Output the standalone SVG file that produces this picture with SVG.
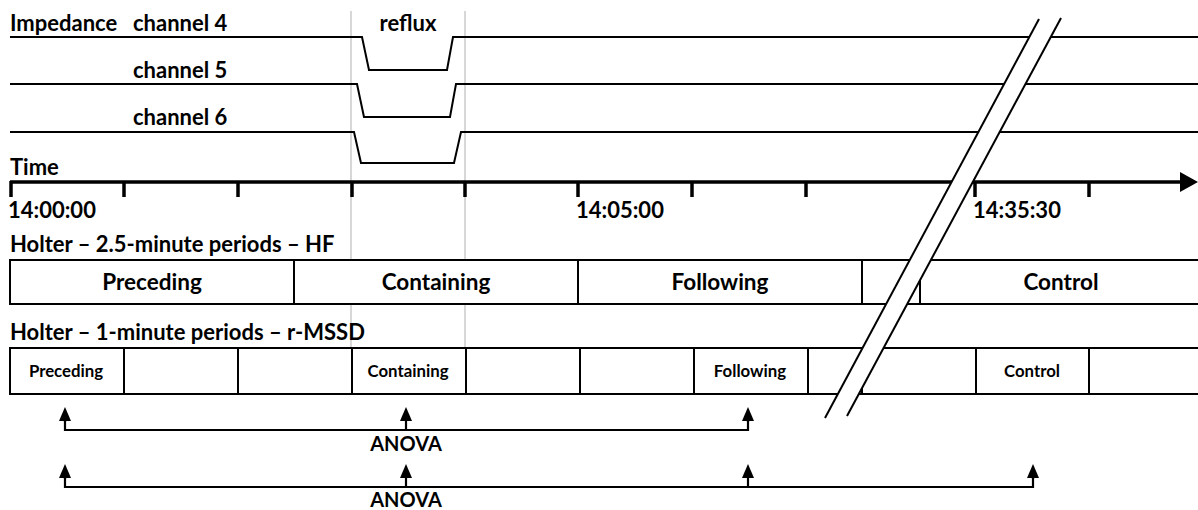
<svg xmlns="http://www.w3.org/2000/svg" width="1198" height="510" viewBox="0 0 1198 510">
<style>
text{font-family:Lato,"Open Sans","Liberation Sans",sans-serif;font-weight:bold;fill:#000}
.lbl{font-size:22px}
.big{font-size:22.5px;text-anchor:middle}
.sm{font-size:16.8px;text-anchor:middle}
.anova{font-size:20px;text-anchor:middle}
.trace{fill:none;stroke:#000;stroke-width:2}
.cell{fill:#fff;stroke:#000;stroke-width:2}
.grey{stroke:#bdbdbd;stroke-width:1.2}
.tick{stroke:#000;stroke-width:3.5}
.br{fill:none;stroke:#000;stroke-width:2}
</style>
<defs>
<marker id="ah" markerUnits="userSpaceOnUse" markerWidth="14" markerHeight="13" refX="0" refY="6" orient="auto">
<path d="M0,0 L14,6 L0,12 z" fill="#000"/>
</marker>
</defs>
<rect width="1198" height="510" fill="#fff"/>
<g id="guides">
<line class="grey" x1="351" y1="11" x2="351" y2="348"/>
<line class="grey" x1="465" y1="11" x2="465" y2="348"/>
</g>
<g id="impedance">
<text class="lbl" x="10" y="31">Impedance</text>
<text class="lbl" x="133" y="31">channel 4</text>
<text class="lbl" x="408" y="31" text-anchor="middle">reflux</text>
<text class="lbl" x="133" y="78">channel 5</text>
<text class="lbl" x="133" y="125">channel 6</text>
<path id="ch4" class="trace" d="M10,37 H362 L369,70 H447 L453,37 H1198"/>
<path id="ch5" class="trace" d="M10,84 H357 L364,117 H450 L456,84 H1198"/>
<path id="ch6" class="trace" d="M10,132 H354 L361,163 H454 L461,132 H1198"/>
</g>
<g id="time-axis">
<text class="lbl" x="10" y="175">Time</text>
<line x1="10" y1="182" x2="1182" y2="182" stroke="#000" stroke-width="3.5"/>
<polygon points="1198,182 1180,172 1180,192" fill="#000"/>
<g>
<line class="tick" x1="11" y1="181" x2="11" y2="197"/>
<line class="tick" x1="124" y1="182" x2="124" y2="197"/>
<line class="tick" x1="238" y1="182" x2="238" y2="197"/>
<line class="tick" x1="352" y1="182" x2="352" y2="197"/>
<line class="tick" x1="465" y1="182" x2="465" y2="197"/>
<line class="tick" x1="578" y1="182" x2="578" y2="197"/>
<line class="tick" x1="692" y1="182" x2="692" y2="197"/>
<line class="tick" x1="806" y1="182" x2="806" y2="197"/>
<line class="tick" x1="975" y1="182" x2="975" y2="197"/>
<line class="tick" x1="1089" y1="182" x2="1089" y2="197"/>
</g>
<text class="lbl" x="8" y="218">14:00:00</text>
<text class="lbl" x="576" y="218">14:05:00</text>
<text class="lbl" x="973" y="218">14:35:30</text>
</g>
<text class="lbl" x="10" y="252">Holter – 2.5-minute periods – HF</text>
<g id="hf-preceding"><rect class="cell" x="10" y="260" width="284" height="44"/><text class="big" x="152" y="290">Preceding</text></g>
<g id="hf-containing"><rect class="cell" x="294" y="260" width="284" height="44"/><text class="big" x="436" y="290">Containing</text></g>
<g id="hf-following"><rect class="cell" x="578" y="260" width="284" height="44"/><text class="big" x="720" y="290">Following</text></g>
<g id="hf-gap"><rect class="cell" x="862" y="260" width="58" height="44"/></g>
<g id="hf-control"><rect class="cell" x="920" y="260" width="290" height="44"/><text class="big" x="1061" y="290">Control</text></g>
<text class="lbl" x="10" y="340">Holter – 1-minute periods – r-MSSD</text>
<g id="r-preceding"><rect class="cell" x="10" y="348" width="114" height="46"/><text class="sm" x="66" y="377">Preceding</text></g>
<g id="r-2"><rect class="cell" x="124" y="348" width="114" height="46"/></g>
<g id="r-3"><rect class="cell" x="238" y="348" width="114" height="46"/></g>
<g id="r-containing"><rect class="cell" x="352" y="348" width="114" height="46"/><text class="sm" x="408" y="377">Containing</text></g>
<g id="r-5"><rect class="cell" x="466" y="348" width="114" height="46"/></g>
<g id="r-6"><rect class="cell" x="580" y="348" width="114" height="46"/></g>
<g id="r-following"><rect class="cell" x="694" y="348" width="114" height="46"/><text class="sm" x="750" y="377">Following</text></g>
<g id="r-8"><rect class="cell" x="808" y="348" width="54" height="46"/></g>
<g id="r-9"><rect class="cell" x="862" y="348" width="114" height="46"/></g>
<g id="r-control"><rect class="cell" x="976" y="348" width="113" height="46"/><text class="sm" x="1032" y="377">Control</text></g>
<g id="r-11"><rect class="cell" x="1089" y="348" width="120" height="46"/></g>
<g id="break">
<polygon points="1039,19 1061,18 847,416 825,418" fill="#fff"/>
<line class="br" x1="1039" y1="19" x2="825" y2="418"/>
<line class="br" x1="1061" y1="18" x2="847" y2="416"/>
</g>
<g id="connectors" fill="none" stroke="#000" stroke-width="2.2">
<path d="M65,421 V430 H748 V421"/>
<line x1="65" y1="422" x2="65" y2="421" marker-end="url(#ah)"/>
<line x1="406" y1="430" x2="406" y2="421" marker-end="url(#ah)"/>
<line x1="748" y1="422" x2="748" y2="421" marker-end="url(#ah)"/>
<path d="M65,478 V487 H1033 V478"/>
<line x1="65" y1="479" x2="65" y2="478" marker-end="url(#ah)"/>
<line x1="406" y1="487" x2="406" y2="478" marker-end="url(#ah)"/>
<line x1="748" y1="487" x2="748" y2="478" marker-end="url(#ah)"/>
<line x1="1033" y1="479" x2="1033" y2="478" marker-end="url(#ah)"/>
</g>
<g id="labels-anova">
<text class="anova" x="406" y="451">ANOVA</text>
<text class="anova" x="406" y="507">ANOVA</text>
</g>
</svg>
